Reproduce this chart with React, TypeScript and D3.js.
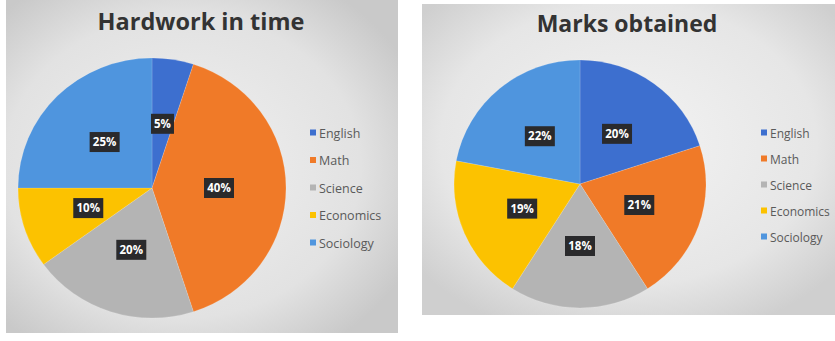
import React from "react";
import * as d3 from "d3";

const subjects = ["English", "Math", "Science", "Economics", "Sociology"];
const hardwork = [5, 40, 20, 10, 25];
const marks = [20, 21, 18, 19, 22];
const colors = ["#3d6fcf", "#f07a28", "#b4b4b4", "#fcc200", "#4f95de"];
const titles = ["Hardwork in time", "Marks obtained"];

type PieProps = {
  values: number[];
  cx: number;
  cy: number;
  rx: number;
  ry: number;
  labelFrac: number;
  legendX: number;
  legendY: number;
  legendStep: number;
  legendFont: number;
};

function Pie({ values, cx, cy, rx, ry, labelFrac, legendX, legendY, legendStep, legendFont }: PieProps) {
  const pie = d3.pie<number>().sort(null).value((d) => d);
  const arcs = pie(values);
  const arc = d3.arc<d3.PieArcDatum<number>>().innerRadius(0).outerRadius(rx);
  const labelArc = d3
    .arc<d3.PieArcDatum<number>>()
    .innerRadius(rx * labelFrac)
    .outerRadius(rx * labelFrac);
  const sy = ry / rx;
  const legendScale = d3.scalePoint<string>().domain(subjects).range([legendY, legendY + legendStep * (subjects.length - 1)]);
  return (
    <g>
      <g transform={`translate(${cx},${cy}) scale(1,${sy})`}>
        {arcs.map((a, i) => (
          <path key={i} d={arc(a) || ""} fill={colors[i]} stroke="rgba(255,255,255,0.25)" strokeWidth={0.6} />
        ))}
      </g>
      {arcs.map((a, i) => {
        const [x, y] = labelArc.centroid(a);
        const px = cx + x;
        const py = cy + y * sy;
        const txt = `${values[i]}%`;
        const w = txt.length * 7 + 9;
        return (
          <g key={i}>
            <rect x={px - w / 2} y={py - 10} width={w} height={20} fill="#2a2a2c" />
            <text
              x={px}
              y={py + 4}
              textAnchor="middle"
              fill="#ffffff"
              fontSize={11.5}
              fontWeight="bold"
              fontFamily="'Open Sans', 'DejaVu Sans', sans-serif"
            >
              {txt}
            </text>
          </g>
        );
      })}
      {subjects.map((s, i) => {
        const y = legendScale(s) as number;
        return (
          <g key={s}>
            <rect x={legendX} y={y - 3.5} width={6} height={6} fill={colors[i]} />
            <text
              x={legendX + 9}
              y={y + 4.5}
              fontSize={legendFont}
              fill="#5a5a5a"
              fontFamily="'Open Sans', 'DejaVu Sans', sans-serif"
            >
              {s}
            </text>
          </g>
        );
      })}
    </g>
  );
}

export default function App() {
  return (
    <svg
      width={835}
      height={341}
      style={{ position: "absolute", left: 0, top: 0, background: "#ffffff" }}
    >
      <defs>
        <radialGradient id="bgL" cx="45%" cy="50%" r="65%">
          <stop offset="0%" stopColor="#f1f1f1" />
          <stop offset="70%" stopColor="#e2e2e2" />
          <stop offset="100%" stopColor="#c9c9c9" />
        </radialGradient>
        <radialGradient id="bgR" cx="50%" cy="45%" r="65%">
          <stop offset="0%" stopColor="#f3f3f3" />
          <stop offset="70%" stopColor="#e6e6e6" />
          <stop offset="100%" stopColor="#cfcfcf" />
        </radialGradient>
      </defs>
      <rect x={6} y={0} width={392} height={333} fill="url(#bgL)" />
      <rect x={422} y={4} width={413} height={311} fill="url(#bgR)" />

      <text
        x={201}
        y={30}
        textAnchor="middle"
        fontSize={23.5}
        fontWeight="bold"
        fill="#333333"
        fontFamily="'Open Sans', 'DejaVu Sans', sans-serif"
      >
        {titles[0]}
      </text>
      <text
        x={627}
        y={32}
        textAnchor="middle"
        fontSize={23}
        fontWeight="bold"
        fill="#333333"
        fontFamily="'Open Sans', 'DejaVu Sans', sans-serif"
      >
        {titles[1]}
      </text>

      <Pie
        values={hardwork}
        cx={152}
        cy={188}
        rx={134}
        ry={130}
        labelFrac={0.5}
        legendX={310}
        legendY={133}
        legendStep={27.5}
        legendFont={12.5}
      />
      <Pie
        values={marks}
        cx={580}
        cy={184}
        rx={126}
        ry={124}
        labelFrac={0.5}
        legendX={761}
        legendY={133}
        legendStep={26}
        legendFont={12}
      />
    </svg>
  );
}
